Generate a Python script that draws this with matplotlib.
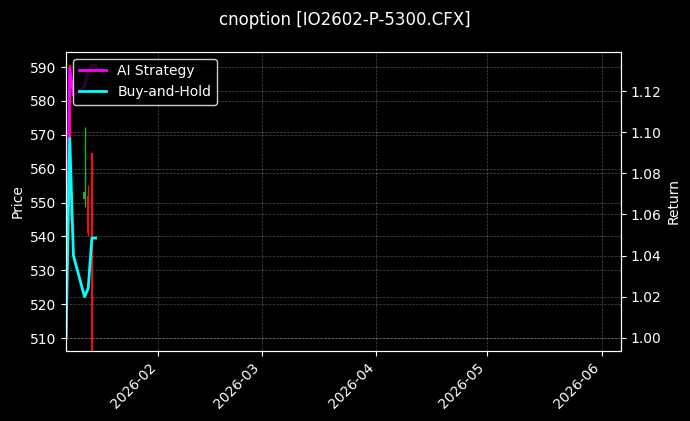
import numpy as np
import pandas as pd
import matplotlib
matplotlib.use('Agg')
import matplotlib.pyplot as plt
import matplotlib.dates as mdates

# daily bars (NaN = no visible candle)
dates = pd.to_datetime(['2026-01-07', '2026-01-08', '2026-01-09', '2026-01-12',
                        '2026-01-13', '2026-01-14', '2026-01-15'])
opens  = [np.nan, 590.5, np.nan, 551.0, 552.0, 564.6, np.nan]
highs  = [np.nan, 590.6, np.nan, 572.4, 555.2, 564.6, np.nan]
lows   = [np.nan, 545.0, np.nan, 548.8, 540.0, 503.0, np.nan]
closes = [np.nan, 552.0, np.nan, 553.0, 541.0, 504.0, np.nan]

ai_ret = [1.000, 1.131, 1.118, 1.122, 1.130, 1.1325, 1.1325]
bh_ret = [1.000, 1.097, 1.040, 1.020, 1.024, 1.0485, 1.0485]

plt.style.use('dark_background')
fig = plt.figure(figsize=(6.9, 4.21), dpi=100)
ax = fig.add_axes([0.0957, 0.167, 0.8037, 0.710])

x = mdates.date2num(dates)
for xi, o, h, l, c in zip(x, opens, highs, lows, closes):
    if np.isnan(o):
        continue
    col = '#22b022' if c >= o else '#ee1111'
    ax.vlines(xi, l, h, color=col, linewidth=1.0)
    ax.bar(xi, abs(c - o), bottom=min(o, c), width=0.6, color=col, edgecolor=col, linewidth=0)

ax.set_ylabel('Price')
ax.set_ylim(506.3, 594.5)
ax.set_xlim(mdates.datestr2num('2026-01-07'), mdates.datestr2num('2026-06-06 03:00'))
ax.grid(True, linestyle='--', linewidth=0.5, alpha=0.3)

ax2 = ax.twinx()
ax2.plot(dates, ai_ret, color='#ff00ff', linewidth=2, label='AI Strategy')
ax2.plot(dates, bh_ret, color='#00ffff', linewidth=2, label='Buy-and-Hold')
ax2.set_ylabel('Return')
ax2.set_ylim(0.9937, 1.1391)
ax2.grid(True, linestyle='--', linewidth=0.5, alpha=0.3)
ax2.legend(loc='upper left', facecolor='black', edgecolor='white', framealpha=0.8)

ax.xaxis.set_major_locator(mdates.MonthLocator())
ax.xaxis.set_major_formatter(mdates.DateFormatter('%Y-%m'))
plt.setp(ax.get_xticklabels(), rotation=45, ha='right')

fig.suptitle('cnoption [IO2602-P-5300.CFX]', fontsize=12, y=0.975)
fig.savefig('out.png', dpi=100)
